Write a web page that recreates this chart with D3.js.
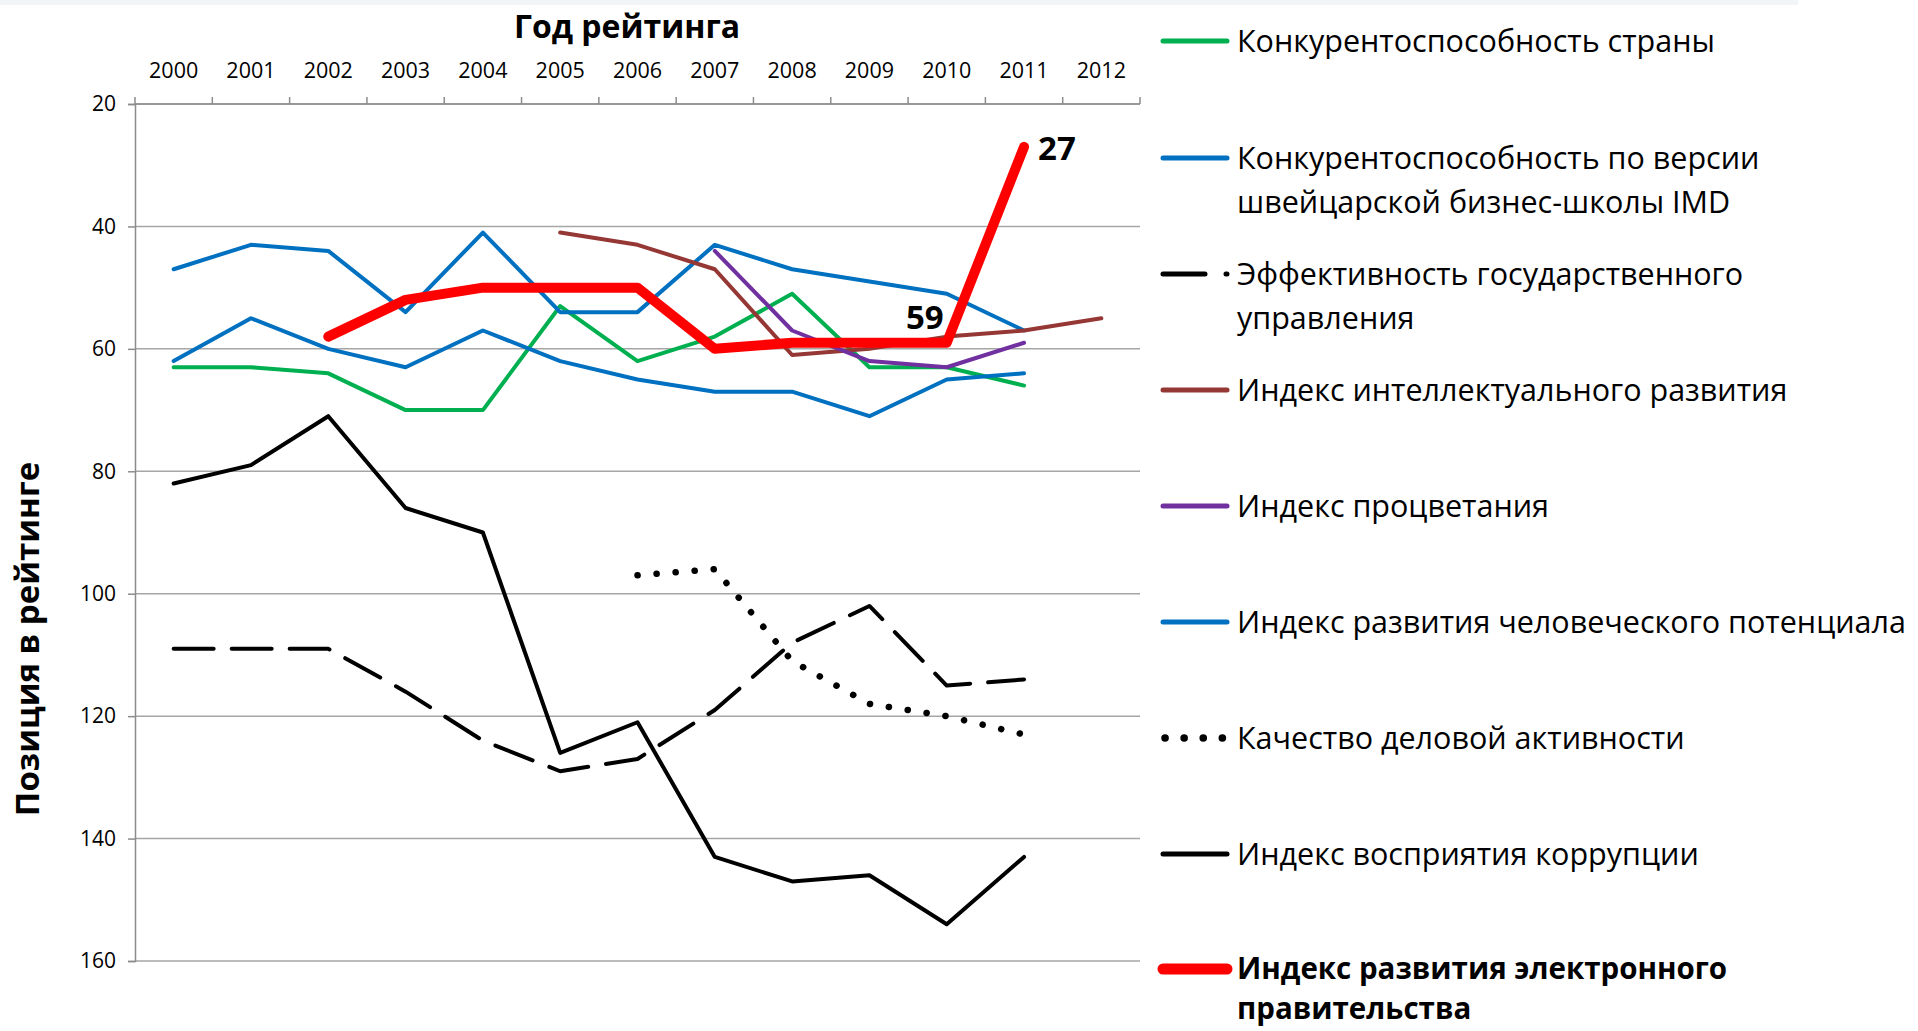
<!DOCTYPE html>
<html>
<head>
<meta charset="utf-8">
<script src="https://cdn.jsdelivr.net/npm/d3@7"></script>
<style>
  html, body { margin: 0; padding: 0; background: #fff; }
  svg { display: block; font-family: 'Open Sans', 'Noto Sans', sans-serif; }
</style>
</head>
<body>
<div id="chart"></div>
<script>
// years on the top axis
const years = ['2000', '2001', '2002', '2003', '2004', '2005', '2006', '2007', '2008', '2009', '2010', '2011', '2012'];
const yTicks = [20, 40, 60, 80, 100, 120, 140, 160];

// positions in the ratings, null = no data for that year
const competitiveness = [63, 63, 64, 70, 70, 53, 62, 58, 51, 63, 63, 66, null];
const imd = [47, 43, 44, 54, 41, 54, 54, 43, 47, 49, 51, 57, null];
const govEffectiveness = [109, 109, 109, 116, 124, 129, 127, 119, 108, 102, 115, 114, null];
const intellect = [null, null, null, null, null, 41, 43, 47, 61, 60, 58, 57, 55];
const prosperity = [null, null, null, null, null, null, null, 44, 57, 62, 63, 59, null];
const hdi = [62, 55, 60, 63, 57, 62, 65, 67, 67, 71, 65, 64, null];
const businessQuality = [null, null, null, null, null, null, 97, 96, 111, 118, 120, 123, null];
const corruption = [82, 79, 71, 86, 90, 126, 121, 143, 147, 146, 154, 143, null];
const egov = [null, null, 58, 52, 50, 50, 50, 60, 59, 59, 59, 27, null];

const series = [
  { name: ['Конкурентоспособность страны'], values: competitiveness, color: '#00b050', width: 4, legendY: 41 },
  { name: ['Конкурентоспособность по версии', 'швейцарской бизнес-школы IMD'], values: imd, color: '#0070c0', width: 4, legendY: 158 },
  { name: ['Эффективность государственного', 'управления'], values: govEffectiveness, color: '#000', width: 4, dash: '40 18', legendDash: '42 21', legendY: 274 },
  { name: ['Индекс интеллектуального развития'], values: intellect, color: '#953735', width: 4, legendY: 390 },
  { name: ['Индекс процветания'], values: prosperity, color: '#7030a0', width: 4, legendY: 506 },
  { name: ['Индекс развития человеческого потенциала'], values: hdi, color: '#0070c0', width: 4, legendY: 622 },
  { name: ['Качество деловой активности'], values: businessQuality, color: '#000', width: 6.5, dash: '0.1 19', legendDash: '0.1 19', legendY: 738 },
  { name: ['Индекс восприятия коррупции'], values: corruption, color: '#000', width: 4, legendY: 854 },
  { name: ['Индекс развития электронного', 'правительства'], values: egov, color: '#ff0000', width: 10, bold: true, legendY: 969 }
];

const W = 1918, H = 1031;
const plot = { left: 135, right: 1140, top: 104, bottom: 961 };

const svg = d3.select('#chart').append('svg').attr('width', W).attr('height', H);

svg.append('rect').attr('x', 0).attr('y', 0).attr('width', 1798).attr('height', 5).attr('fill', '#f2f5f8');

const x = d3.scaleBand().domain(years).range([plot.left, plot.right]);
const y = d3.scaleLinear().domain([20, 160]).range([plot.top, plot.bottom]);

// gridlines
svg.append('g').selectAll('line')
  .data(yTicks)
  .enter().append('line')
  .attr('x1', plot.left).attr('x2', plot.right)
  .attr('y1', d => y(d)).attr('y2', d => y(d))
  .attr('stroke', '#a6a6a6').attr('stroke-width', 1.5);

// left axis
const yAxis = svg.append('g')
  .attr('transform', `translate(${plot.left},0)`)
  .call(d3.axisLeft(y).tickValues(yTicks).tickSize(7).tickPadding(12));
yAxis.select('.domain').attr('stroke', '#8c8c8c').attr('stroke-width', 1.5);
yAxis.selectAll('.tick line').attr('stroke', '#8c8c8c').attr('stroke-width', 1.5);
yAxis.selectAll('text').attr('font-size', 21).attr('fill', '#000').attr('font-family', 'Open Sans');

// top axis: tick marks at category boundaries, labels centered
const topAxis = svg.append('g').attr('transform', `translate(0,${plot.top})`);
topAxis.append('line')
  .attr('x1', plot.left).attr('x2', plot.right).attr('y1', 0).attr('y2', 0)
  .attr('stroke', '#8c8c8c').attr('stroke-width', 1.5);
const bounds = years.map(d => x(d)).concat([plot.right]);
topAxis.selectAll('line.tk')
  .data(bounds)
  .enter().append('line')
  .attr('class', 'tk')
  .attr('x1', d => d).attr('x2', d => d).attr('y1', 0).attr('y2', -7)
  .attr('stroke', '#8c8c8c').attr('stroke-width', 1.5);
topAxis.selectAll('text')
  .data(years)
  .enter().append('text')
  .attr('x', d => x(d) + x.bandwidth() / 2)
  .attr('y', -34)
  .attr('dy', '0.35em')
  .attr('text-anchor', 'middle')
  .attr('font-size', 21.5)
  .text(d => d);

svg.append('text')
  .attr('x', 627).attr('y', 27).attr('dy', '0.35em')
  .attr('text-anchor', 'middle')
  .attr('font-size', 32).attr('font-weight', 700)
  .text('Год рейтинга');

svg.append('text')
  .attr('transform', 'translate(27,639) rotate(-90)')
  .attr('dy', '0.35em')
  .attr('text-anchor', 'middle')
  .attr('font-size', 33).attr('font-weight', 700)
  .text('Позиция в рейтинге');

// lines
const line = d3.line()
  .defined(d => d.v != null)
  .x(d => x(d.year) + x.bandwidth() / 2)
  .y(d => y(d.v));

svg.append('g').selectAll('path')
  .data(series)
  .enter().append('path')
  .attr('d', s => line(s.values.map((v, i) => ({ year: years[i], v }))))
  .attr('fill', 'none')
  .attr('stroke', s => s.color)
  .attr('stroke-width', s => s.width)
  .attr('stroke-dasharray', s => s.dash || null)
  .attr('stroke-linecap', 'round')
  .attr('stroke-linejoin', 'round');

// data labels on the e-government series
const cx = i => x(years[i]) + x.bandwidth() / 2;
svg.append('text')
  .attr('x', cx(10) - 3).attr('y', y(egov[10]) - 25).attr('dy', '0.35em')
  .attr('text-anchor', 'end')
  .attr('font-size', 33).attr('font-weight', 700)
  .text(egov[10]);
svg.append('text')
  .attr('x', cx(11) + 14).attr('y', y(egov[11]) + 2).attr('dy', '0.35em')
  .attr('font-size', 33).attr('font-weight', 700)
  .text(egov[11]);

// legend
const lg = svg.append('g');
const item = lg.selectAll('g')
  .data(series)
  .enter().append('g')
  .attr('transform', s => `translate(0,${s.legendY})`);
item.append('line')
  .attr('x1', s => s.legendDash === '0.1 19' ? 1165 : 1163)
  .attr('x2', s => s.legendDash === '0.1 19' ? 1223 : 1227)
  .attr('y1', 0).attr('y2', 0)
  .attr('stroke', s => s.color)
  .attr('stroke-width', s => s.width === 4 ? 5 : s.width === 10 ? 11 : 7.5)
  .attr('stroke-dasharray', s => s.legendDash || null)
  .attr('stroke-linecap', 'round');
item.append('text')
  .attr('x', 1237)
  .attr('font-size', s => s.bold ? 29.5 : 30.5)
  .attr('font-weight', s => s.bold ? 700 : 400)
  .selectAll('tspan')
  .data(s => s.name)
  .enter().append('tspan')
  .attr('x', 1237)
  .attr('y', (d, i, nodes) => i * (nodes.length > 1 && d === 'правительства' ? 40 : 44))
  .attr('dy', '0.35em')
  .text(d => d);
</script>
</body>
</html>
